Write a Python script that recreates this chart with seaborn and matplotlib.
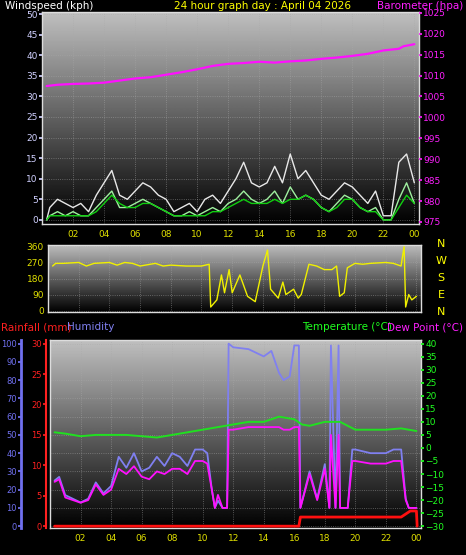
import numpy as np
import pandas as pd
import matplotlib
matplotlib.use("Agg")
import matplotlib.pyplot as plt
import seaborn as sns

sns.set_theme(style="dark")
plt.rcParams['font.family'] = ['DejaVu Sans']

# ---- data ----
baro_t = [0.3, 1, 2, 3, 4, 5, 6, 7, 8, 9, 10, 11, 12, 13, 14, 15, 16, 17, 18, 19, 20, 21, 22, 23, 23.3, 24]
baro_v = [1007.5, 1007.8, 1008, 1008.1, 1008.3, 1008.8, 1009.3, 1009.6, 1010.2, 1010.8, 1011.5, 1012.3, 1012.8, 1013.0, 1013.3, 1013.1, 1013.4, 1013.6, 1014.0, 1014.3, 1014.7, 1015.2, 1016.0, 1016.4, 1017.0, 1017.5]

wind_t = [0.3, 0.5, 1, 1.5, 2, 2.5, 3, 3.5, 4, 4.5, 5, 5.5, 6, 6.5, 7, 7.5, 8, 8.5, 9, 9.5, 10, 10.5, 11, 11.5, 12, 12.5, 13, 13.5, 14, 14.5, 15, 15.5, 16, 16.5, 17, 17.5, 18, 18.5, 19, 19.5, 20, 20.5, 21, 21.5, 22, 22.5, 23, 23.5, 24]
gust_v = [0, 3, 5, 4, 3, 4, 2, 6, 9, 12, 6, 5, 7, 9, 8, 6, 5, 2, 3, 4, 2, 5, 6, 4, 7, 10, 14, 9, 8, 9, 13, 9, 16, 10, 12, 9, 6, 5, 7, 9, 8, 6, 4, 7, 1, 1, 14, 16, 9]
speed_v = [0, 1, 2, 1, 2, 1, 1, 3, 5, 7, 3, 3, 4, 5, 4, 3, 2, 1, 1, 2, 1, 2, 3, 2, 4, 5, 7, 5, 4, 5, 7, 4, 8, 5, 6, 5, 3, 2, 4, 6, 5, 3, 2, 3, 0, 0, 5, 9, 4]
avg_v = [0, 1, 1, 1, 1, 1, 1, 2, 4, 6, 4, 3, 3, 4, 4, 3, 2, 1, 1, 1, 1, 1, 2, 2, 3, 4, 5, 4, 4, 4, 5, 4, 5, 5, 6, 5, 3, 2, 3, 5, 5, 3, 2, 2, 0, 0, 3, 6, 4]

dir_t = [0.3, 0.5, 1, 2, 2.5, 3, 4, 4.5, 5, 5.5, 6, 7, 7.5, 8, 9, 10, 10.5, 10.6, 11, 11.3, 11.5, 11.8, 12, 12.5, 13, 13.5, 14, 14.3, 14.5, 15, 15.3, 15.5, 16, 16.3, 16.5, 17, 17.5, 18, 18.5, 18.8, 19, 19.3, 19.5, 20, 20.5, 21, 22, 22.5, 23, 23.2, 23.3, 23.5, 23.7, 24]
dir_v = [250, 265, 265, 270, 250, 265, 270, 255, 270, 265, 250, 265, 250, 255, 250, 250, 260, 20, 60, 200, 100, 230, 100, 200, 80, 50, 250, 340, 120, 70, 160, 90, 120, 70, 90, 260, 250, 230, 230, 250, 80, 100, 240, 265, 260, 265, 270, 265, 250, 360, 20, 90, 60, 80]

hum_t = [0.3, 0.6, 1, 1.5, 2, 2.5, 3, 3.5, 4, 4.5, 5, 5.5, 6, 6.5, 7, 7.5, 8, 8.5, 9, 9.5, 10, 10.3, 10.6, 10.8, 11, 11.3, 11.6, 11.7, 12, 13, 14, 14.5, 15, 15.3, 15.7, 16, 16.3, 16.4, 17, 17.5, 18, 18.3, 18.4, 18.7, 18.9, 19, 19.5, 19.8, 20, 21, 22, 22.5, 23, 23.3, 23.5, 24]
hum_v = [25, 27, 17, 15, 13, 15, 24, 18, 22, 38, 32, 40, 30, 32, 38, 33, 40, 38, 33, 42, 42, 40, 20, 10, 14, 10, 10, 100, 98, 97, 93, 96, 84, 80, 82, 99, 99, 10, 30, 15, 34, 10, 99, 10, 99, 10, 10, 42, 42, 40, 40, 42, 42, 15, 10, 10]
dew_v = [-13, -12, -19, -20, -21, -20, -14, -18, -16, -8, -10, -7, -11, -12, -9, -10, -8, -8, -10, -5, -5, -6, -16, -23, -18, -23, -23, 7, 7, 8, 8, 8, 8, 7, 7, 8, 8, -23, -10, -20, -8, -23, 5, -23, 5, -23, -23, -5, -5, -6, -6, -5, -5, -20, -23, -23]

temp_t = [0.3, 1, 2, 3, 4, 5, 6, 7, 8, 9, 10, 11, 12, 13, 14, 15, 16, 16.5, 17, 18, 19, 20, 21, 22, 23, 24]
temp_v = [6, 5.5, 4.5, 5, 5, 5, 4.5, 4, 5, 6, 7, 8, 9, 10, 10, 12, 11, 9, 8.5, 10, 10, 7, 7, 7, 7.5, 6.5]

rain_t = [0.3, 16.3, 16.4, 23.0, 23.3, 23.6, 24.0, 24.05]
rain_v = [0, 0, 1.5, 1.5, 2.0, 2.5, 2.5, 0]

xticks = [2, 4, 6, 8, 10, 12, 14, 16, 18, 20, 22, 24]
xlabels = ['02', '04', '06', '08', '10', '12', '14', '16', '18', '20', '22', '00']

W, H = 466, 555
fig = plt.figure(figsize=(W / 100, H / 100), dpi=100, facecolor='black')

def rect(l, t, r, b):
    return [l / W, 1 - b / H, (r - l) / W, (b - t) / H]

grad = np.linspace(0.75, 0.0, 256).reshape(-1, 1)

def style(ax, ylim, yt, ycol):
    ax.set_facecolor('black')
    ax.imshow(grad, cmap='gray', vmin=0, vmax=1, aspect='auto', origin='upper',
              extent=[0, 1, 0, 1], transform=ax.transAxes, zorder=0)
    ax.set_xlim(0, 24.3)
    ax.set_ylim(*ylim)
    ax.set_xticks(xticks)
    ax.set_xticklabels(xlabels)
    ax.set_yticks(yt)
    ax.tick_params(axis='x', colors='#e0e000', labelsize=6.5, length=2, pad=2)
    ax.tick_params(axis='y', colors=ycol, labelsize=6.5, length=2, pad=1)
    ax.grid(True, color='#aaaaaa', linestyle=':', linewidth=0.6, alpha=0.6)
    for s in ax.spines.values():
        s.set_color('#dddddd')
        s.set_linewidth(1)

# ---- top: wind + barometer ----
ax1 = fig.add_axes(rect(42, 12, 419, 224))
style(ax1, (-1, 50.5), range(0, 51, 5), '#d0d0ff')
df_w = pd.DataFrame({'t': wind_t, 'gust': gust_v, 'speed': speed_v, 'avg': avg_v})
sns.lineplot(data=df_w, x='t', y='gust', ax=ax1, color='#e8e8e8', lw=1, zorder=3)
sns.lineplot(data=df_w, x='t', y='speed', ax=ax1, color='#a0f0a0', lw=1, zorder=4)
sns.lineplot(data=df_w, x='t', y='avg', ax=ax1, color='#10d010', lw=1, zorder=5)
ax1.set_xlim(0, 24.3); ax1.set_ylim(-1, 50.5)
ax1.set_xlabel(''); ax1.set_ylabel('')
ax1b = ax1.twinx()
ax1b.set_ylim(974.5, 1025.2)
sns.lineplot(x=baro_t, y=baro_v, ax=ax1b, color='#ff10ff', lw=1.6)
ax1b.set_yticks(range(975, 1026, 5))
ax1b.tick_params(axis='y', colors='#ff20ff', labelsize=6.5, length=2, pad=1)
for s in ax1b.spines.values():
    s.set_visible(False)

fig.text(5 / W, 1 - 6 / H, 'Windspeed (kph)', color='white', fontsize=7.5, va='center')
fig.text(262 / W, 1 - 6 / H, '24 hour graph day : April 04 2026', color='#ffff00', fontsize=7.5, va='center', ha='center')
fig.text(463 / W, 1 - 6 / H, 'Barometer (hpa)', color='#ff20ff', fontsize=7.5, va='center', ha='right')

# ---- middle: wind direction ----
ax2 = fig.add_axes(rect(48, 245, 421, 312))
style(ax2, (-8, 368), [0, 90, 180, 270, 360], '#e0e000')
sns.lineplot(x=dir_t, y=dir_v, ax=ax2, color='#f0f000', lw=1)
ax2.set_xlim(0, 24.3); ax2.set_ylim(-8, 368)
ax2.set_xticklabels([])
for i, lab in enumerate(['N', 'W', 'S', 'E', 'N']):
    fig.text(441 / W, 1 - (244 + i * 17) / H, lab, color='#ffff00', fontsize=8, va='center', ha='center')

# ---- bottom: humidity/dew/temp/rain ----
ax3 = fig.add_axes(rect(50, 340, 421, 528))
style(ax3, (-1, 102), [], 'white')
df_h = pd.DataFrame({'t': hum_t, 'hum': hum_v, 'dew': dew_v})
sns.lineplot(data=df_h, x='t', y='hum', ax=ax3, color='#8080f0', lw=1.3, zorder=3)
ax3.set_xlim(0, 24.3); ax3.set_ylim(-1, 102)
ax3.set_yticks([0, 10, 20, 30, 40, 50, 60, 70, 80, 90, 100])
ax3.tick_params(axis='y', length=0, labelleft=False)
ax3.set_xlabel(''); ax3.set_ylabel('')

axT = ax3.twinx()
axT.set_ylim(-30 - 0.7, 40 + 1.4)
sns.lineplot(x=temp_t, y=temp_v, ax=axT, color='#20e020', lw=1.4)
sns.lineplot(data=df_h, x='t', y='dew', ax=axT, color='#ff10ff', lw=1.3)
axT.set_yticks(range(-30, 41, 5))
axT.tick_params(axis='y', colors='#20ff20', labelsize=6.5, length=2, pad=1)

axR = ax3.twinx()
axR.set_ylim(-0.3, 30.6)
sns.lineplot(x=rain_t, y=rain_v, ax=axR, color='#ff1010', lw=2)
axR.yaxis.set_ticks_position('left')
axR.yaxis.set_label_position('left')
axR.spines['left'].set_position(('outward', 3))
axR.set_yticks(range(0, 31, 5))
axR.tick_params(axis='y', colors='#ff2020', labelsize=6, length=2, pad=1)
axR.spines['left'].set_color('#ff2020'); axR.spines['left'].set_linewidth(1.5)

axH = ax3.twinx()
axH.set_ylim(-1, 102)
axH.yaxis.set_ticks_position('left')
axH.spines['left'].set_position(('outward', 21))
axH.set_yticks(range(0, 101, 10))
axH.tick_params(axis='y', colors='#7070f0', labelsize=6, length=2, pad=1)
axH.spines['left'].set_color('#7070f0'); axH.spines['left'].set_linewidth(2)

for a in (axT, axR, axH):
    a.set_xlabel(''); a.set_ylabel('')
    for k in ('top', 'bottom', 'right', 'left'):
        a.spines[k].set_visible(False)
axR.spines['left'].set_visible(True)
axH.spines['left'].set_visible(True)

fig.text(1 / W, 1 - 327 / H, 'Rainfall (mm)', color='#ff2020', fontsize=7.5, va='center')
fig.text(67 / W, 1 - 327 / H, 'Humidity', color='#8080f0', fontsize=7.5, va='center')
fig.text(392 / W, 1 - 327 / H, 'Temperature (°C)', color='#20ff20', fontsize=7.5, va='center', ha='right')
fig.text(463 / W, 1 - 327 / H, 'Dew Point (°C)', color='#ff20ff', fontsize=7.5, va='center', ha='right')

fig.savefig('out.png', dpi=100, facecolor='black')
